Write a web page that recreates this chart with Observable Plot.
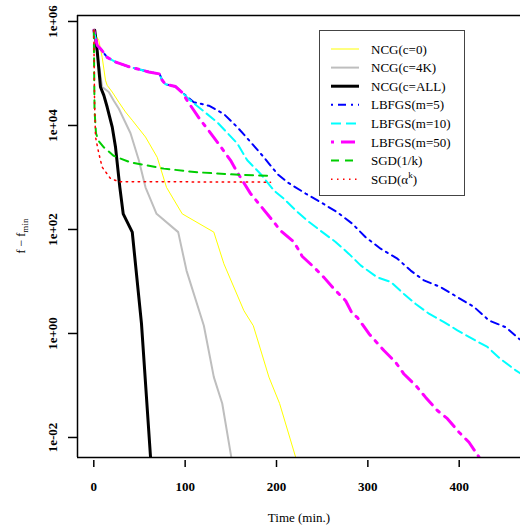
<!DOCTYPE html>
<html><head><meta charset="utf-8">
<script src="https://cdn.jsdelivr.net/npm/d3@7"></script>
<script src="https://cdn.jsdelivr.net/npm/@observablehq/plot@0.6"></script>
<style>body{margin:0;background:#fff;}</style>
</head><body><div id="chart"></div>
<script>
// ---- data (time in minutes, f - f_min) ----
const ncg0T = [0, 5.5, 9.2, 12.8, 14.7, 20.2, 27.4, 34.7, 42.1, 56.6, 69.4, 79.6, 96.8, 131.4, 142.4, 164.3, 174.6, 191.7, 203.4, 220.9];
const ncg0F = [6.5e5, 4.3e5, 2.04e5, 7.4e4, 5.9e4, 4.4e4, 2.8e4, 1.82e4, 1.26e4, 6.0e3, 2.45e3, 646, 200, 89, 21.9, 2.75, 1.41, 0.145, 0.045, 0.0042];
const ncg4kT = [0, 9.2, 16.4, 21.9, 27.4, 40.2, 49.3, 56.6, 68.7, 92.4, 101.5, 120.5, 131.4, 140.6, 150.5];
const ncg4kF = [6.5e5, 5.5e4, 4.4e4, 3.0e4, 2.1e4, 7.1e3, 2.14e3, 646, 200, 89, 16.2, 1.41, 0.145, 0.045, 0.0042];
const ncgAllT = [1, 3.7, 7.3, 11.0, 14.7, 20.2, 23.8, 28.5, 32.2, 42.1, 52.2, 62.1];
const ncgAllF = [6.8e5, 2.75e5, 5.5e4, 3.8e4, 2.24e4, 9.3e3, 3.8e3, 646, 200, 89, 1.55, 0.0042];
const lbfgsStartT = [0, 3.7, 7.3, 14.7, 23.8, 38.3, 60.2, 72.0, 74.7, 78.5, 89.5, 96.8];
const lbfgsStartF = [6.8e5, 3.5e5, 3.0e5, 2.04e5, 1.66e5, 1.35e5, 1.07e5, 9.8e4, 7.5e4, 6.2e4, 5.6e4, 4.3e4];
const lbfgs5T = [109.5, 126.0, 142.4, 157.1, 171.6, 186.2, 200.9, 211.8, 231.9, 248.3, 266.6, 283.0, 297.6, 314.0, 332.3, 346.9, 361.4, 379.7, 398.0, 416.2, 432.6, 450.9, 465.5, 472.8];
const lbfgs5F = [2.8e4, 2.4e4, 1.66e4, 9.3e3, 4.8e3, 2.45e3, 1.17e3, 813, 490, 335, 214, 129, 70.8, 42.7, 27.5, 16.2, 10.5, 7.8, 5.0, 3.24, 1.78, 1.32, 0.79, 0.68];
const lbfgs10T = [104.1, 116.9, 135.2, 157.1, 168.0, 182.6, 197.2, 208.1, 220.9, 233.7, 250.2, 264.7, 279.3, 292.1, 310.4, 325.0, 339.5, 352.4, 366.9, 383.4, 398.0, 416.2, 430.9, 445.5, 461.9, 472.8];
const lbfgs10F = [3.2e4, 2.1e4, 1.15e4, 4.5e3, 2.14e3, 1.17e3, 562, 389, 234, 148, 89, 57.5, 33.9, 20.4, 12.0, 9.8, 5.75, 3.7, 2.4, 1.66, 1.15, 0.76, 0.55, 0.32, 0.195, 0.148];
const lbfgs50T = [102.3, 116.9, 126.0, 135.2, 149.7, 157.1, 171.6, 197.2, 204.3, 219.1, 228.3, 241.0, 251.9, 262.9, 275.7, 283.0, 288.5, 301.2, 317.6, 330.4, 339.5, 352.4, 363.3, 376.1, 387.1, 399.8, 410.7, 421.7];
const lbfgs50F = [3.0e4, 1.26e4, 7.9e3, 4.8e3, 2.14e3, 1.26e3, 490, 138, 95.5, 57.5, 30.2, 18.8, 12.0, 7.2, 4.27, 2.4, 2.04, 0.99, 0.47, 0.28, 0.166, 0.1, 0.059, 0.033, 0.023, 0.0126, 0.0081, 0.0042];
const sgdInvT = [0, 0.8, 2.4, 5.1, 11, 21.9, 40.2, 76.7, 113.3, 149.7, 195.4];
const sgdInvF = [6.8e5, 1.95e4, 7.1e3, 5.1e3, 3.8e3, 2.6e3, 1.95e3, 1.48e3, 1.26e3, 1.15e3, 1.07e3];
const sgdExpT = [0, 0.8, 1.9, 5.5, 9.2, 18.3, 27.4, 193.5];
const sgdExpF = [6.8e5, 3.0e4, 6.0e3, 2.9e3, 1.58e3, 955, 832, 813];

const xTicks = [0, 100, 200, 300, 400];
const yTicks = [1e-2, 1, 1e2, 1e4, 1e6];
const yTickLabels = ["1e-02", "1e+00", "1e+02", "1e+04", "1e+06"];

const series = [
  {name: "NCG(c=0)", t: ncg0T, f: ncg0F, stroke: "#ffff00", w: 1, dash: null},
  {name: "NCG(c=4K)", t: ncg4kT, f: ncg4kF, stroke: "#bebebe", w: 2, dash: null},
  {name: "NCG(c=ALL)", t: ncgAllT, f: ncgAllF, stroke: "#000000", w: 3, dash: null},
  {name: "LBFGS(m=5)", t: lbfgsStartT.concat(lbfgs5T), f: lbfgsStartF.concat(lbfgs5F), stroke: "#0000ff", w: 2, dash: "2,5,8,5"},
  {name: "LBFGS(m=10)", t: lbfgsStartT.concat(lbfgs10T), f: lbfgsStartF.concat(lbfgs10F), stroke: "#00ffff", w: 2, dash: "10,5"},
  {name: "LBFGS(m=50)", t: lbfgsStartT.concat(lbfgs50T), f: lbfgsStartF.concat(lbfgs50F), stroke: "#ff00ff", w: 3, dash: "3,7,14,7"},
  {name: "SGD(1/k)", t: sgdInvT, f: sgdInvF, stroke: "#00cd00", w: 2, dash: "8,6"},
  {name: "SGD(\u03b1^k)", t: sgdExpT, f: sgdExpF, stroke: "#ff0000", w: 1.5, dash: "1.5,4.5"}
];

const xDomain = [-17.84, 467.1];
const yDomain = [Math.pow(10, -2.385), Math.pow(10, 6.115)];

const svg = Plot.plot({
  width: 520, height: 529,
  marginLeft: 77, marginRight: 0, marginTop: 15, marginBottom: 72,
  style: {fontFamily: "Liberation Serif", fontSize: "13px", background: "white", color: "black"},
  x: {domain: xDomain},
  y: {type: "log", domain: yDomain},
  marks: [
    ...series.map(s => Plot.line(s.t.map((t, i) => ({t, f: s.f[i]})), {
      x: "t", y: "f", stroke: s.stroke, strokeWidth: s.w,
      strokeDasharray: s.dash || undefined, strokeLinejoin: "round", clip: true
    })),
    Plot.ruleX([xDomain[0]], {strokeWidth: 1.5}),
    Plot.ruleY([yDomain[0], yDomain[1]], {strokeWidth: 1.5}),
    Plot.axisX({ticks: xTicks, tickSize: 7, dy: 3, tickPadding: 14, fontWeight: "bold", label: null, strokeWidth: 1.5}),
    Plot.axisY({ticks: yTicks, tickSize: 9, tickFormat: () => "", label: null, strokeWidth: 1.5}),
    Plot.text(yTicks, {y: d => d, text: (d, i) => yTickLabels[i], frameAnchor: "left", dx: -25, rotate: -90,
      textAnchor: "middle", lineAnchor: "middle", fontWeight: "bold", fontSize: 13})
  ]
});

const s = d3.select(svg);
// axis titles
s.append("text").attr("x", 299).attr("y", 522).attr("text-anchor", "middle")
  .attr("font-family", "Liberation Serif").attr("font-size", 13).text("Time (min.)");
const yl = s.append("text").attr("transform", "translate(25,236) rotate(-90)").attr("text-anchor", "middle")
  .attr("font-family", "Liberation Serif").attr("font-size", 12);
yl.append("tspan").text("f \u2212 f");
yl.append("tspan").attr("font-size", 9).attr("dy", 3).text("min");

// legend
const lg = s.append("g").attr("text-anchor", "start");
lg.append("rect").attr("x", 319.5).attr("y", 30.5).attr("width", 145).attr("height", 165)
  .attr("fill", "white").attr("stroke", "#444").attr("stroke-width", 1);
series.forEach((d, i) => {
  const cy = 49 + i * 18.6;
  lg.append("line").attr("x1", 331).attr("x2", 359).attr("y1", cy).attr("y2", cy)
    .attr("stroke", d.stroke).attr("stroke-width", d.w)
    .attr("stroke-dasharray", d.dash || null);
  const t = lg.append("text").attr("x", 371).attr("y", cy + 4.5).attr("text-anchor", "start")
    .attr("font-family", "Liberation Serif").attr("font-size", 13);
  if (i === 7) {
    t.append("tspan").text("SGD(\u03b1");
    t.append("tspan").attr("font-size", 9).attr("dy", -6).text("k");
    t.append("tspan").attr("dy", 6).text(")");
  } else {
    t.text(d.name);
  }
});

document.getElementById("chart").appendChild(svg);
</script>
</body></html>
